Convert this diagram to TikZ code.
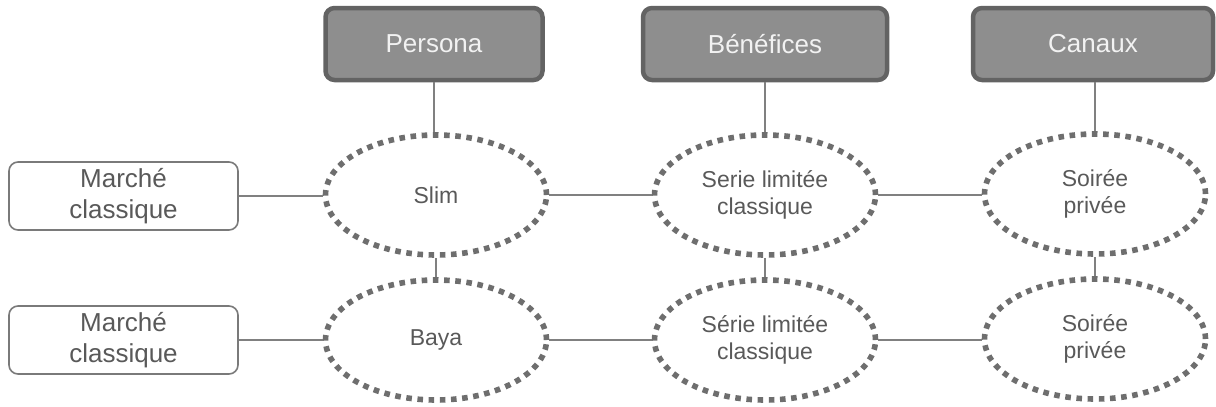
\documentclass[tikz,border=0pt]{standalone}
\usepackage{fontspec}
\setmainfont{Liberation Sans}
\usetikzlibrary{shapes.geometric}
\definecolor{hdrfill}{HTML}{8E8E8E}
\definecolor{hdrline}{HTML}{636363}
\definecolor{dotline}{HTML}{6E6E6E}
\definecolor{txtgray}{HTML}{595959}
\definecolor{conn}{HTML}{808080}
\definecolor{boxline}{HTML}{7A7A7A}
\begin{document}
\begin{tikzpicture}[x=1pt,y=-1pt,
  hdr/.style={draw=hdrline, fill=hdrfill, line width=4.5pt, rounded corners=9pt,
    minimum height=72pt, inner sep=0pt, text=white!95!black,
    font=\fontsize{26}{31}\selectfont},
  oval/.style={ellipse, draw=dotline, line width=5.6pt, dash pattern=on 5.6pt off 5.6pt,
    minimum width=221pt, minimum height=120pt, inner sep=0pt, align=center,
    text=txtgray, font=\fontsize{23}{27}\selectfont},
  side/.style={draw=boxline, line width=1.6pt, rounded corners=9pt,
    minimum width=229pt, minimum height=68pt, inner sep=0pt, align=center,
    text=txtgray, font=\fontsize{26}{31}\selectfont},
  link/.style={draw=conn, line width=1.3pt}]
\useasboundingbox (0,0) rectangle (1216,407);
% headers
\node[hdr, minimum width=217pt] (hp) at (434,44) {Persona};
\node[hdr, minimum width=244pt] (hb) at (765,44) {Bénéfices};
\node[hdr, minimum width=240pt] (hc) at (1093,44) {Canaux};
% left boxes
\node[side] (m1) at (123.5,196) {Marché\\classique};
\node[side] (m2) at (123.5,340) {Marché\\classique};
% ovals row 1
\node[oval] (p1) at (436,195) {Slim};
\node[oval] (b1) at (765,195) {Serie limitée\\classique};
\node[oval] (c1) at (1095,194) {Soirée\\privée};
% ovals row 2
\node[oval] (p2) at (436,340) {Baya};
\node[oval] (b2) at (765,340) {Série limitée\\classique};
\node[oval] (c2) at (1095,339) {Soirée\\privée};
% connectors
\draw[link] (hp.south) -- (hp.south |- p1.north);
\draw[link] (hb.south) -- (b1.north);
\draw[link] (hc.south -| c1.north) -- (c1.north);
\draw[link] (p1.south) -- (p2.north);
\draw[link] (b1.south) -- (b2.north);
\draw[link] (c1.south) -- (c2.north);
\draw[link] (m1.east) -- (m1.east -| p1.west);
\draw[link] (p1.east) -- (b1.west);
\draw[link] (b1.east) -- (b1.east -| c1.west);
\draw[link] (m2.east) -- (m2.east -| p2.west);
\draw[link] (p2.east) -- (b2.west);
\draw[link] (b2.east) -- (b2.east -| c2.west);
\end{tikzpicture}
\end{document}
